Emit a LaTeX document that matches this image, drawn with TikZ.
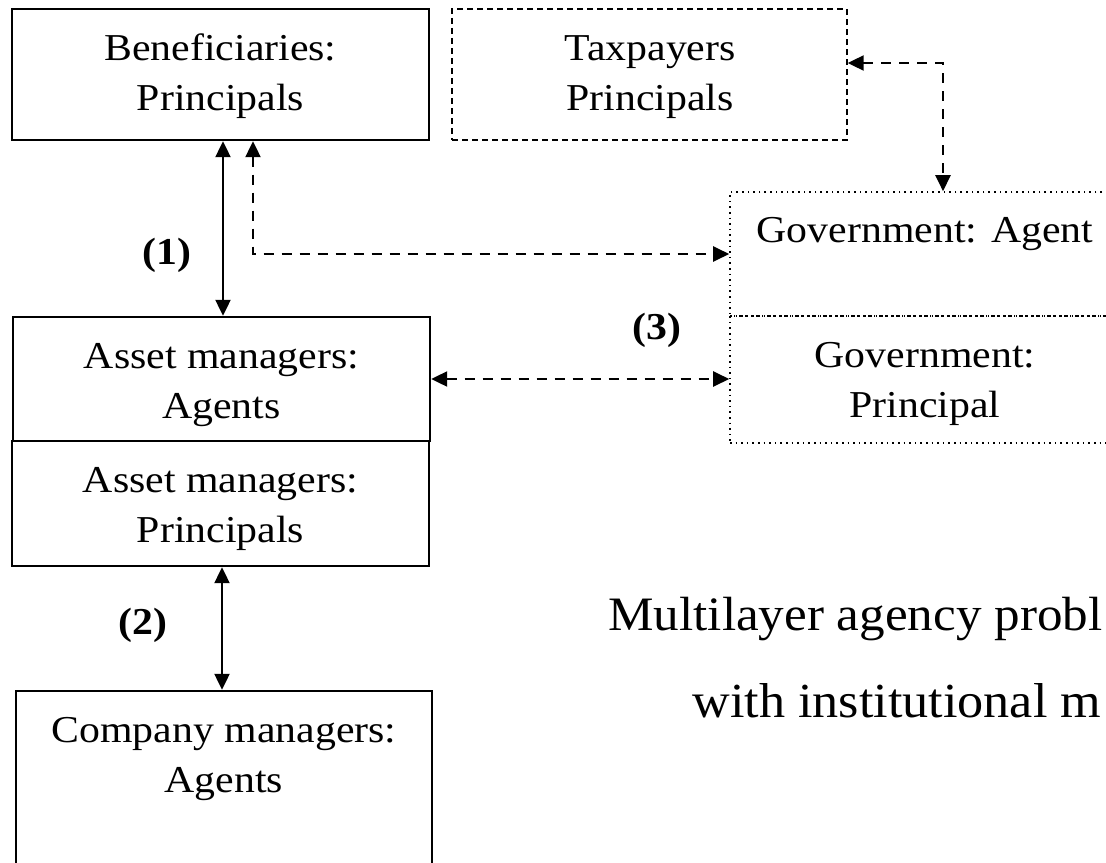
\documentclass[tikz,border=0pt]{standalone}
\usepackage{fontspec}
\setmainfont{Liberation Serif}[FakeStretch=1.1]
\newfontfamily\titlefont{Liberation Serif}[FakeStretch=1.065]
\usetikzlibrary{arrows.meta}

\tikzset{
  box/.style={draw, line width=1.2pt, inner sep=0pt},
  dashbox/.style={draw, line width=0.7pt, dash pattern=on 3pt off 2pt, inner sep=0pt},
  dotbox/.style={draw, line width=0.8pt, dotted, inner sep=0pt},
  txt/.style={anchor=base, align=center, inner sep=0pt, font=\fontsize{19}{25}\selectfont},
  num/.style={inner sep=0pt, font=\fontsize{19}{25}\selectfont\bfseries},
  solidlink/.style={line width=1.1pt, {Triangle[length=8pt,width=7.5pt]}-{Triangle[length=8pt,width=7.5pt]}},
  dashlink/.style={solidlink, dash pattern=on 5pt off 4pt},
}

\begin{document}
\begin{tikzpicture}[x=0.5pt,y=-0.5pt]
\useasboundingbox (0,0) rectangle (1106,862);
% boxes
\node[box, minimum width=208.5pt, minimum height=65.5pt] (benef) at (220.5,74.5) {};
\node[dashbox, minimum width=197.5pt, minimum height=65.5pt] (tax) at (649.5,74.5) {};
\node[dotbox, minimum width=195pt, minimum height=62pt] (govA) at (925,254) {};
\node[dotbox, minimum width=195pt, minimum height=63.5pt] (govP) at (925,379.5) {};
\node[box, minimum width=208.5pt, minimum height=62pt] (assetA) at (221.5,379) {};
\node[box, minimum width=208.5pt, minimum height=62.5pt] (assetP) at (220.5,503.5) {};
\node[box, minimum width=208pt, minimum height=104.5pt] (comp) at (224,795.5) {};
% texts (base = last line)
\node[txt] (benefT) at (220.5,110) {Beneficiaries:\\Principals};
\node[txt] (taxT) at (650,110) {Taxpayers\\Principals};
\node[txt] (govAT) at (925,242) {Government: Agent};
\node[txt] (govPT) at (925,417) {Government:\\Principal};
\node[txt] (assetAT) at (221.5,418) {Asset managers:\\Agents};
\node[txt] (assetPT) at (220.5,542) {Asset managers:\\Principals};
\node[txt] (compT) at (224,792) {Company managers:\\Agents};
% layer numbers
\node[num] (lab1) at (167,255) {(1)};
\node[num] (lab2) at (143,625) {(2)};
\node[num] (lab3) at (657,330) {(3)};
% links
\draw[solidlink] (223,0 |- benef.south) -- (223,0 |- assetA.north);
\draw[dashlink] (253,0 |- benef.south) |- (govA.west);
\draw[dashlink] (assetA.east) -- (assetA.east -| govP.west);
\draw[dashlink] (tax.east |- 0,63) -| (943,0 |- govA.north);
\draw[solidlink] (222,0 |- assetP.south) -- (222,0 |- comp.north);
% caption
\node[anchor=base west, inner sep=0pt, font=\titlefont\fontsize{24}{28}\selectfont] (title1) at (608,630) {Multilayer agency probl};
\node[anchor=base west, inner sep=0pt, font=\titlefont\fontsize{24.5}{28}\selectfont] (title2) at (692,717) {with institutional m};
\end{tikzpicture}
\end{document}
